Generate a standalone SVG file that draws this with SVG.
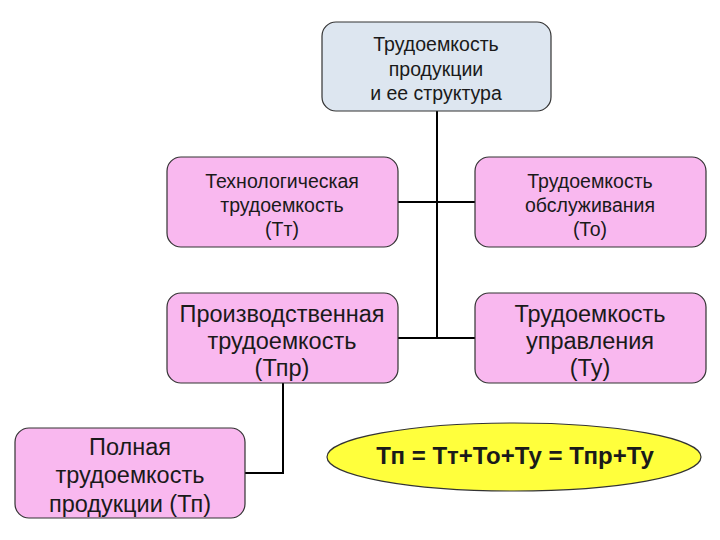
<svg xmlns="http://www.w3.org/2000/svg" width="720" height="540" viewBox="0 0 720 540">
<defs>
<style>
.box{stroke:#333;stroke-width:1.2}
.pink{fill:#f9b8ef}
.blue{fill:#dde6f0}
.t{font-family:"Liberation Sans",Arial,sans-serif;fill:#1a1a1a;text-anchor:middle}
.s16{font-size:19.5px}
.s20{font-size:23.5px}
.con{stroke:#000;stroke-width:2;fill:none}
</style>
</defs>
<rect width="720" height="540" fill="#fff"/>
<g id="connectors">
<path class="con" d="M437 111 V338 M398 202 H475 M398 338 H475"/>
<path class="con" d="M283 383 V473 H245"/>
</g>
<g id="n-top">
<rect class="box blue" x="322" y="22" width="229" height="89" rx="14"/>
<text class="t s16"><tspan x="436" y="51">Трудоемкость</tspan><tspan x="436" y="76">продукции</tspan><tspan x="436" y="100">и ее структура</tspan></text>
</g>
<g id="n-tt">
<rect class="box pink" x="167" y="157" width="231" height="90" rx="14"/>
<text class="t s16"><tspan x="282" y="188">Технологическая</tspan><tspan x="282" y="212">трудоемкость</tspan><tspan x="282" y="236">(Тт)</tspan></text>
</g>
<g id="n-to">
<rect class="box pink" x="475" y="157" width="231" height="90" rx="14"/>
<text class="t s16"><tspan x="590" y="188">Трудоемкость</tspan><tspan x="590" y="212">обслуживания</tspan><tspan x="590" y="236">(То)</tspan></text>
</g>
<g id="n-tpr">
<rect class="box pink" x="167" y="293" width="231" height="90" rx="14"/>
<text class="t s20"><tspan x="282" y="322">Производственная</tspan><tspan x="282" y="349">трудоемкость</tspan><tspan x="282" y="376">(Тпр)</tspan></text>
</g>
<g id="n-tu">
<rect class="box pink" x="475" y="293" width="231" height="90" rx="14"/>
<text class="t s20"><tspan x="590" y="322">Трудоемкость</tspan><tspan x="590" y="349">управления</tspan><tspan x="590" y="376">(Ту)</tspan></text>
</g>
<g id="n-tp">
<rect class="box pink" x="15" y="428" width="230" height="90" rx="14"/>
<text class="t s20"><tspan x="130" y="455">Полная</tspan><tspan x="130" y="483">трудоемкость</tspan><tspan x="130" y="512">продукции (Тп)</tspan></text>
</g>
<g id="n-formula">
<ellipse cx="514" cy="457" rx="187" ry="34" fill="#ffff3c" stroke="#333" stroke-width="1.2"/>
<text class="t" x="515" y="464" font-size="24px" font-weight="bold" fill="#142010">Тп = Тт+То+Ту = Тпр+Ту</text>
</g>
</svg>
